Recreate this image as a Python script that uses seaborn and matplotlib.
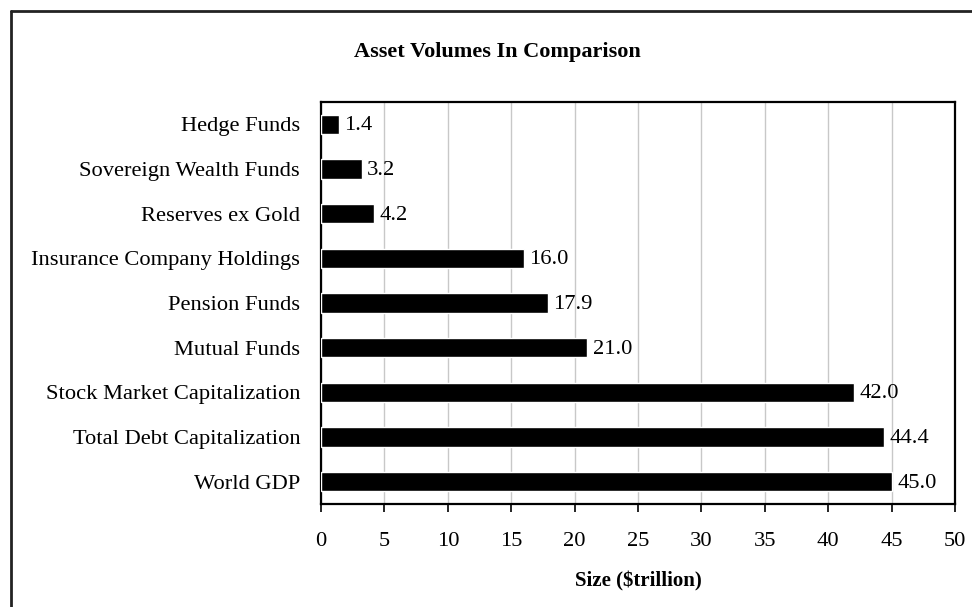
import matplotlib
matplotlib.use('Agg')
import matplotlib.pyplot as plt
from matplotlib.lines import Line2D
import seaborn as sns
import pandas as pd

categories = ['Hedge Funds', 'Sovereign Wealth Funds', 'Reserves ex Gold',
              'Insurance Company Holdings', 'Pension Funds', 'Mutual Funds',
              'Stock Market Capitalization', 'Total Debt Capitalization',
              'World GDP']
values = [1.4, 3.2, 4.2, 16.0, 17.9, 21.0, 42.0, 44.4, 45.0]
xticks = [0, 5, 10, 15, 20, 25, 30, 35, 40, 45, 50]

sns.set_style('white')
plt.rcParams['font.family'] = ['Liberation Serif', 'DejaVu Serif']
plt.rcParams['text.color'] = 'black'
plt.rcParams['xtick.color'] = 'black'
plt.rcParams['ytick.color'] = 'black'
plt.rcParams['axes.labelcolor'] = 'black'

df = pd.DataFrame({'asset': categories, 'size': values})

fig = plt.figure(figsize=(9.72, 6.07), dpi=100)
ax = fig.add_axes([321 / 972, 1 - 504 / 607, (955 - 321) / 972, (504 - 102) / 607])

sns.barplot(data=df, x='size', y='asset', order=categories, color='black',
            saturation=1, width=0.44, ax=ax, zorder=3)

for i, v in enumerate(values):
    ax.annotate(f'{v:.1f}', (v, i), xytext=(4, -1), textcoords='offset points',
                va='center', ha='left', fontsize=16.2)

ax.set_xlim(0, 50)
ax.set_ylim(len(categories) - 0.5, -0.5)
ax.set_xticks(xticks)
ax.xaxis.grid(True, color='#c8c8c8', lw=1, zorder=0)
ax.yaxis.grid(False)
ax.tick_params(axis='x', which='major', direction='out', length=6, width=1.2,
               color='black', labelsize=16.2, pad=14, bottom=True)
ax.tick_params(axis='y', length=0, labelsize=16.2, pad=15)
for s in ax.spines.values():
    s.set_color('black')
    s.set_linewidth(1.6)
    s.set_visible(True)

ax.set_ylabel('')
ax.set_xlabel('Size ($trillion)', fontsize=15, fontweight='bold', labelpad=15)

fig.text(497 / 972, 1 - 52 / 607, 'Asset Volumes In Comparison', ha='center',
         va='center', fontsize=16, fontweight='bold')

# outer border (left and top edges visible)
x0, y0 = 10.5 / 972, 1 - 11 / 607
fig.add_artist(Line2D([x0, x0], [-0.01, y0], transform=fig.transFigure,
                      color='#222222', lw=2))
fig.add_artist(Line2D([x0, 1.01], [y0, y0], transform=fig.transFigure,
                      color='#222222', lw=2))

fig.savefig('out.png', dpi=100)
